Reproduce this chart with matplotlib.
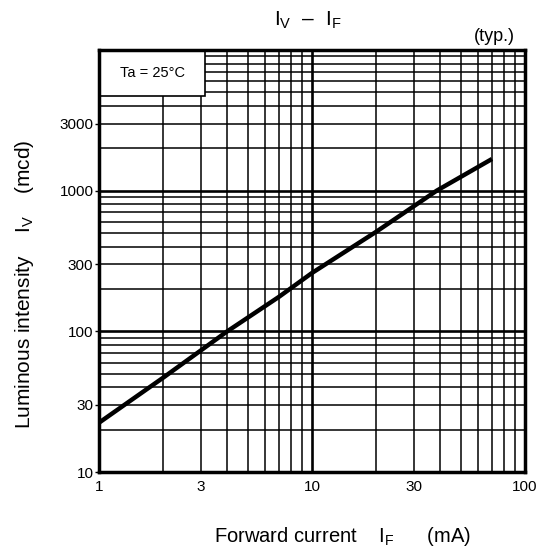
import numpy as np
import matplotlib.pyplot as plt
from matplotlib.ticker import FixedLocator, NullFormatter

plt.rcParams["font.family"] = ["Liberation Sans", "DejaVu Sans"]
plt.rcParams["mathtext.fontset"] = "custom"
plt.rcParams["mathtext.rm"] = "Liberation Sans"
plt.rcParams["mathtext.it"] = "Liberation Sans"

# datos
forward_current = [1, 2, 4, 7, 10, 20, 38.5, 70]          # mA
luminous_intensity = [22.4, 46.8, 100, 176, 260, 510, 1000, 1680]  # mcd

x_ticks = [1, 3, 10, 30, 100]
y_ticks = [10, 30, 100, 300, 1000, 3000]

fig = plt.figure(figsize=(5.46, 5.54), dpi=100)
ax = fig.add_axes([0.1813, 0.148, 0.7802, 0.7617])

ax.set_xscale("log")
ax.set_yscale("log")
ax.set_xlim(1, 100)
ax.set_ylim(10, 10000)

# rejilla
x_minor = [m * d for d in (1, 10) for m in range(2, 10)]
y_minor = [m * d for d in (10, 100, 1000) for m in range(2, 10)]
for xv in x_minor:
    ax.axvline(xv, color="black", lw=1.1, zorder=1)
for yv in y_minor:
    ax.axhline(yv, color="black", lw=1.1, zorder=1)
ax.axvline(10, color="black", lw=1.9, zorder=1)
for yv in (100, 1000):
    ax.axhline(yv, color="black", lw=1.9, zorder=1)

ax.plot(forward_current, luminous_intensity, color="black", lw=3.2,
        solid_capstyle="butt", zorder=3)

ax.xaxis.set_major_locator(FixedLocator(x_ticks))
ax.xaxis.set_minor_locator(FixedLocator([]))
ax.set_xticklabels([str(t) for t in x_ticks])
ax.yaxis.set_major_locator(FixedLocator(y_ticks))
ax.yaxis.set_minor_locator(FixedLocator([]))
ax.set_yticklabels([str(t) for t in y_ticks])
ax.xaxis.set_minor_formatter(NullFormatter())
ax.yaxis.set_minor_formatter(NullFormatter())
ax.tick_params(axis="x", length=0, pad=6, labelsize=11)
ax.tick_params(axis="y", length=3, width=1.0, pad=1, labelsize=11)

for s in ax.spines.values():
    s.set_linewidth(2.5)
    s.set_zorder(5)

# recuadro de condiciones
box = plt.Rectangle((0, 0.89), 0.249, 0.11, transform=ax.transAxes,
                    fc="white", ec="black", lw=1.2, zorder=4)
ax.add_patch(box)
ax.text(0.125, 0.945, "Ta = 25°C", transform=ax.transAxes, fontsize=10.5,
        ha="center", va="center", zorder=6)

fig.text(0.564, 0.963, r"I$_{\mathrm{V}}$  –  I$_{\mathrm{F}}$", fontsize=15,
         ha="center", va="center")
fig.text(0.943, 0.935, "(typ.)", fontsize=13, ha="right", va="center")
fig.text(0.627, 0.031, r"Forward current    I$_{\mathrm{F}}$      (mA)",
         fontsize=14.5, ha="center", va="center")
fig.text(0.045, 0.487, r"Luminous intensity    I$_{\mathrm{V}}$    (mcd)",
         fontsize=15, ha="center", va="center", rotation=90)

fig.savefig("out.png", dpi=100)
